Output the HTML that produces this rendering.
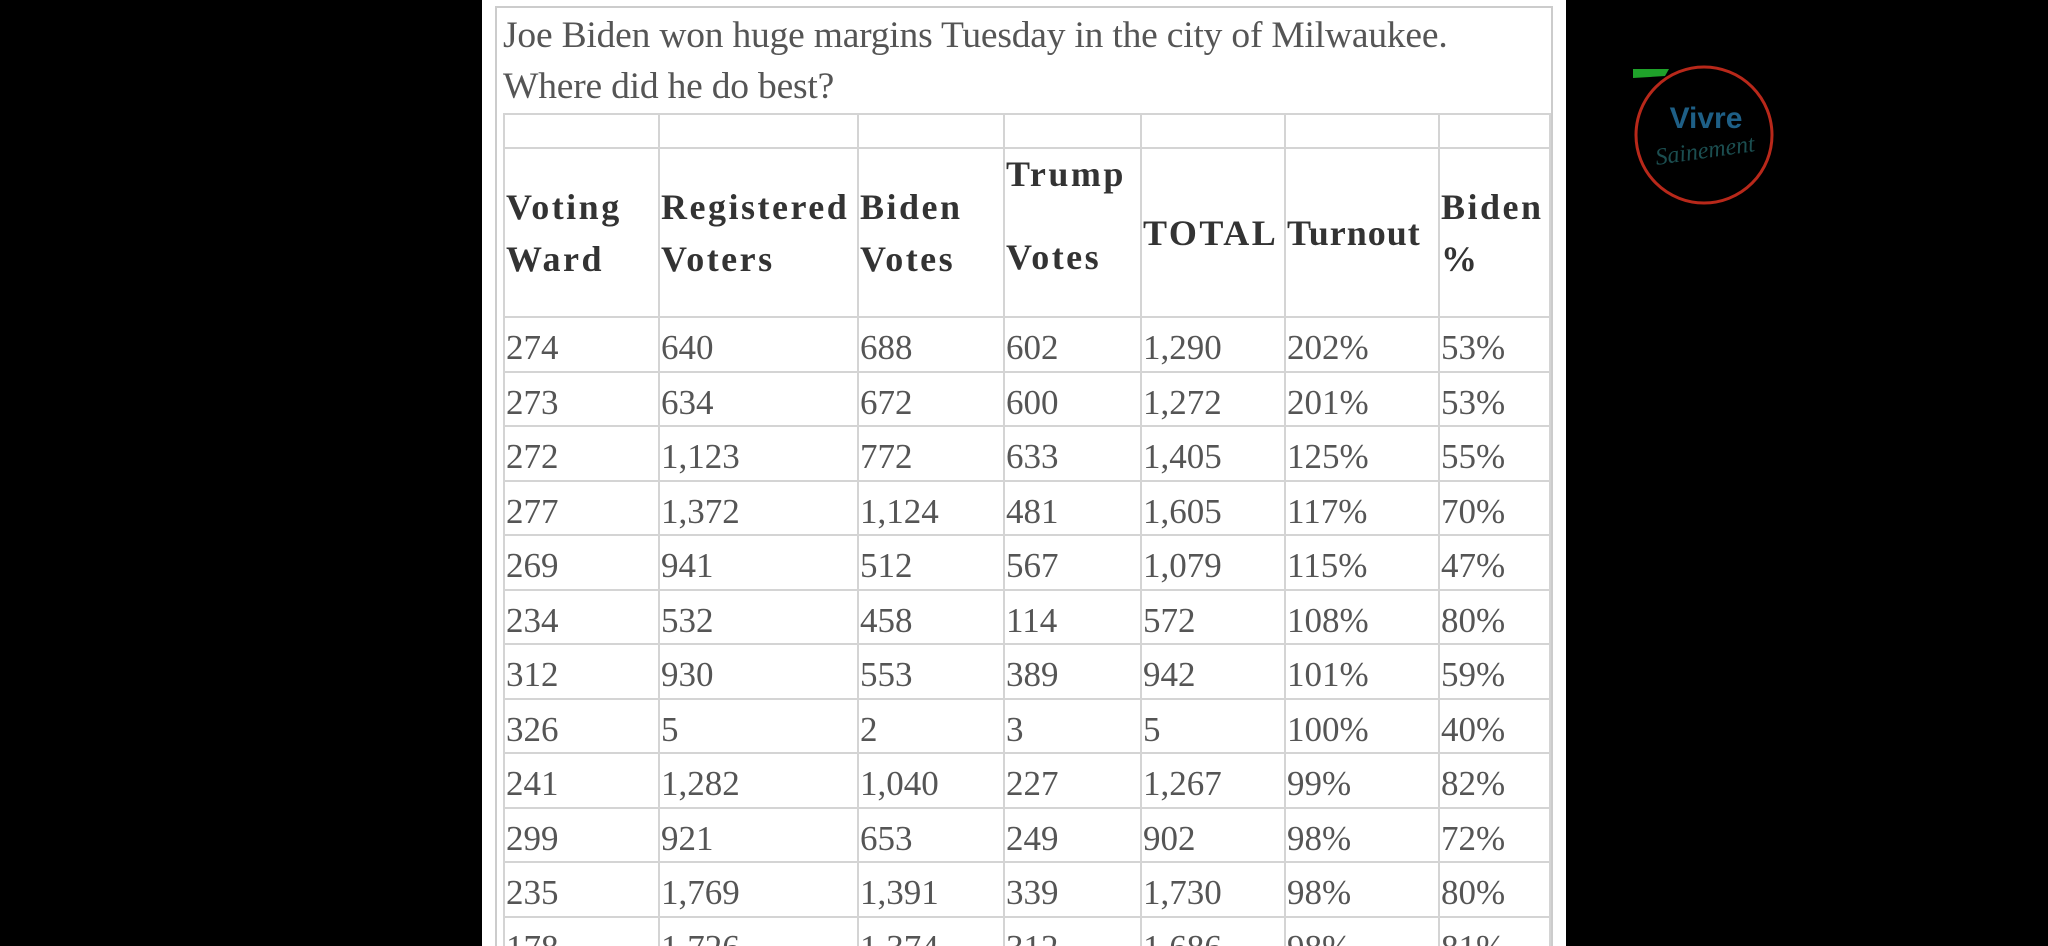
<!DOCTYPE html>
<html style="width:2048px;height:946px;overflow:hidden"><head><meta charset="utf-8"><style>
*{margin:0;padding:0;box-sizing:border-box}
body{width:2048px;height:946px;background:#000;position:relative;overflow:hidden;font-family:"Liberation Serif",serif}
#clip{position:absolute;left:0;top:0;width:2048px;height:946px;overflow:hidden}
#panel{position:absolute;left:482px;top:0;width:1084px;height:946px;background:#fff}
#frame{position:absolute;left:495px;top:6px;width:1058px;height:940px;border:2px solid #ccc;border-bottom:none}
#title{position:absolute;left:503px;top:10px;font-size:37.5px;color:#555;line-height:51px;letter-spacing:-0.2px}
table{position:absolute;left:503px;top:113px;border-collapse:collapse;table-layout:fixed;width:1046px}
td{border:2px solid #d4d4d4;vertical-align:middle;padding:0 0 0 1px;white-space:nowrap;overflow:visible}
tr.e td{height:34px}
tr.h td{height:169px;font-weight:bold;color:#333;font-size:36px;line-height:52px;letter-spacing:2.5px}
tr.d td{height:54.5px;font-size:35px;color:#555;padding-top:8px}
</style></head><body>
<div id="clip">
<div id="panel"></div>
<div id="frame"></div>
<div id="title">Joe Biden won huge margins Tuesday in the city of Milwaukee.<br>Where did he do best?</div>
<table>
<colgroup><col style="width:155px"><col style="width:199px"><col style="width:146px"><col style="width:137px"><col style="width:144px"><col style="width:154px"><col style="width:111px"></colgroup>
<tr class="e"><td></td><td></td><td></td><td></td><td></td><td></td><td></td></tr>
<tr class="h"><td>Voting<br>Ward</td><td>Registered<br>Voters</td><td>Biden<br>Votes</td><td style="line-height:41.5px;padding-bottom:32px">Trump<br><br>Votes</td><td>TOTAL</td><td style="letter-spacing:1px">Turnout</td><td>Biden<br>%</td></tr>
<tr class="d"><td>274</td><td>640</td><td>688</td><td>602</td><td>1,290</td><td>202%</td><td>53%</td></tr>
<tr class="d"><td>273</td><td>634</td><td>672</td><td>600</td><td>1,272</td><td>201%</td><td>53%</td></tr>
<tr class="d"><td>272</td><td>1,123</td><td>772</td><td>633</td><td>1,405</td><td>125%</td><td>55%</td></tr>
<tr class="d"><td>277</td><td>1,372</td><td>1,124</td><td>481</td><td>1,605</td><td>117%</td><td>70%</td></tr>
<tr class="d"><td>269</td><td>941</td><td>512</td><td>567</td><td>1,079</td><td>115%</td><td>47%</td></tr>
<tr class="d"><td>234</td><td>532</td><td>458</td><td>114</td><td>572</td><td>108%</td><td>80%</td></tr>
<tr class="d"><td>312</td><td>930</td><td>553</td><td>389</td><td>942</td><td>101%</td><td>59%</td></tr>
<tr class="d"><td>326</td><td>5</td><td>2</td><td>3</td><td>5</td><td>100%</td><td>40%</td></tr>
<tr class="d"><td>241</td><td>1,282</td><td>1,040</td><td>227</td><td>1,267</td><td>99%</td><td>82%</td></tr>
<tr class="d"><td>299</td><td>921</td><td>653</td><td>249</td><td>902</td><td>98%</td><td>72%</td></tr>
<tr class="d"><td>235</td><td>1,769</td><td>1,391</td><td>339</td><td>1,730</td><td>98%</td><td>80%</td></tr>
<tr class="d"><td>178</td><td>1,726</td><td>1,374</td><td>312</td><td>1,686</td><td>98%</td><td>81%</td></tr>
</table>
<svg style="position:absolute;left:1620px;top:60px" width="170" height="160">
<polygon points="13,9 49,9 45,16 13,18" fill="#1fa22a"/>
<circle cx="84" cy="75" r="68" fill="none" stroke="#b8281a" stroke-width="3"/>
<text x="86" y="68" text-anchor="middle" font-family="Liberation Sans,sans-serif" font-weight="bold" font-size="30" fill="#1e5f86">Vivre</text>
<text x="86" y="98" text-anchor="middle" font-family="Liberation Serif,serif" font-style="italic" font-size="24" fill="#1b4e50" transform="rotate(-8 86 98)">Sainement</text>
</svg>
</div>
</body></html>
